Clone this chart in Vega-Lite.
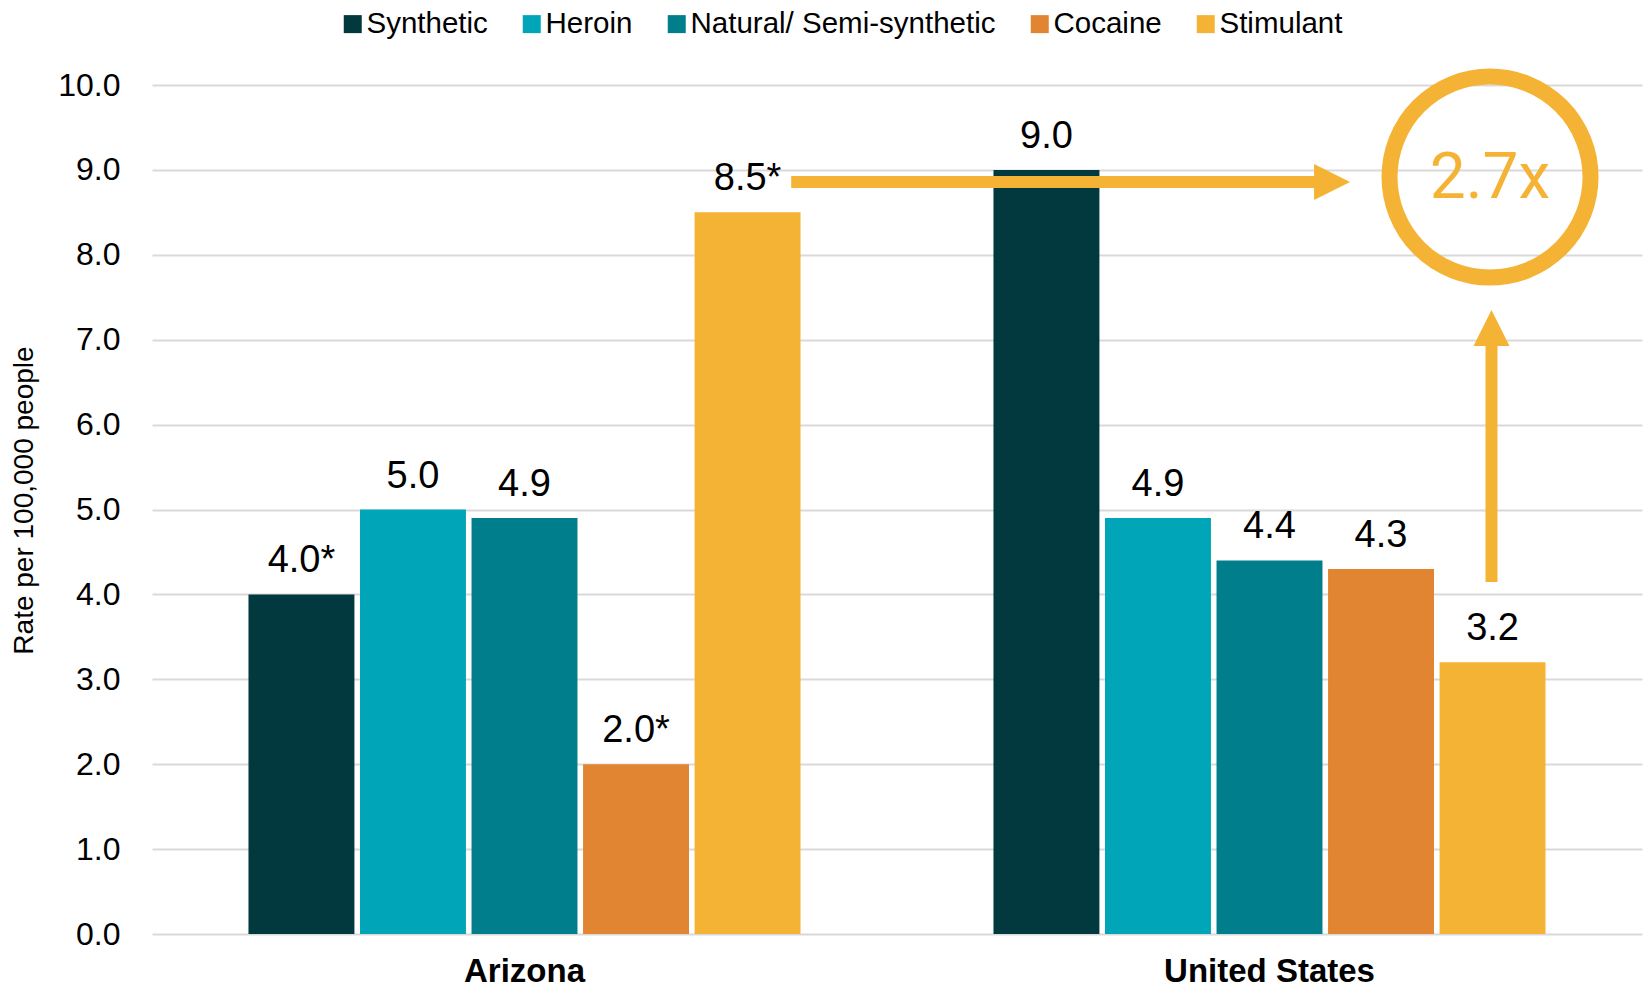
{
  "$schema": "https://vega.github.io/schema/vega-lite/v6.json",
  "width": 1490,
  "height": 849,
  "autosize": {"type": "none"},
  "padding": {"left": 152, "top": 85, "right": 3, "bottom": 56},
  "background": "white",
  "config": {"view": {"stroke": null}},
  "layer": [
    {
      "data": {"values": [
        {"location": "Arizona", "drug": "Synthetic", "value": 4.0, "label": "4.0*"},
        {"location": "Arizona", "drug": "Heroin", "value": 5.0, "label": "5.0"},
        {"location": "Arizona", "drug": "Natural/ Semi-synthetic", "value": 4.9, "label": "4.9"},
        {"location": "Arizona", "drug": "Cocaine", "value": 2.0, "label": "2.0*"},
        {"location": "Arizona", "drug": "Stimulant", "value": 8.5, "label": "8.5*"},
        {"location": "United States", "drug": "Synthetic", "value": 9.0, "label": "9.0"},
        {"location": "United States", "drug": "Heroin", "value": 4.9, "label": "4.9"},
        {"location": "United States", "drug": "Natural/ Semi-synthetic", "value": 4.4, "label": "4.4"},
        {"location": "United States", "drug": "Cocaine", "value": 4.3, "label": "4.3"},
        {"location": "United States", "drug": "Stimulant", "value": 3.2, "label": "3.2"}
      ]},
      "encoding": {
        "x": {"field": "location", "type": "nominal", "sort": ["Arizona", "United States"],
          "scale": {"paddingInner": 0, "paddingOuter": 0},
          "axis": {"title": null, "labelFont": "Liberation Sans", "labelFontWeight": "bold", "labelFontSize": 33, "labelColor": "#000000", "labelPadding": 21, "labelLimit": 0, "domain": false, "ticks": false, "labelAngle": 0}},
        "xOffset": {"field": "drug", "type": "nominal",
          "sort": ["Synthetic", "Heroin", "Natural/ Semi-synthetic", "Cocaine", "Stimulant"],
          "scale": {"paddingInner": 0.05, "paddingOuter": 0.865}},
        "y": {"field": "value", "type": "quantitative",
          "scale": {"domain": [0, 10], "nice": false},
          "axis": {"title": "Rate per 100,000 people", "values": [0, 1, 2, 3, 4, 5, 6, 7, 8, 9, 10], "format": ".1f",
            "grid": true, "gridColor": "#d9d9d9", "gridWidth": 2, "domain": false, "ticks": false,
            "labelFont": "Liberation Sans", "labelFontSize": 32, "labelColor": "#000000", "labelPadding": 32,
            "titleFont": "Liberation Sans", "titleFontSize": 28, "titleFontWeight": "normal", "titleColor": "#000000", "titleX": -114, "titleY": 415}}
      },
      "layer": [
        {
          "mark": {"type": "bar"},
          "encoding": {
            "color": {"field": "drug", "type": "nominal",
              "scale": {"domain": ["Synthetic", "Heroin", "Natural/ Semi-synthetic", "Cocaine", "Stimulant"],
                "range": ["#02393e", "#00a6b8", "#017e8b", "#e28532", "#f5b335"]},
              "legend": {"orient": "none", "legendX": 186, "legendY": -76, "direction": "horizontal", "title": null,
                "symbolType": "square", "symbolSize": 324, "symbolStrokeWidth": 0, "symbolOpacity": 1,
                "labelFont": "Liberation Sans", "labelFontSize": 29.5, "labelColor": "#000000", "labelOffset": -1,
                "columnPadding": 29, "padding": 0, "labelLimit": 500}}
          }
        },
        {
          "mark": {"type": "text", "baseline": "alphabetic", "align": "center", "dy": -22, "font": "Liberation Sans", "fontSize": 38, "color": "#000000"},
          "encoding": {"text": {"field": "label"}}
        }
      ]
    },
    {
      "layer": [
        {
          "data": {"values": [
            {"x": 0.858, "x2": 1.575, "y": 8.857, "y2": 8.857},
            {"x": 1.798, "x2": 1.798, "y": 4.146, "y2": 6.95}
          ]},
          "mark": {"type": "rule", "color": "#f5b335", "strokeWidth": 12, "strokeCap": "butt"},
          "encoding": {
            "x": {"field": "x", "type": "quantitative", "scale": {"domain": [0, 2], "nice": false, "zero": false}, "axis": null},
            "x2": {"field": "x2"},
            "y": {"field": "y", "type": "quantitative", "scale": {"domain": [0, 10], "nice": false},
              "axis": {"title": "Rate per 100,000 people", "values": [0, 1, 2, 3, 4, 5, 6, 7, 8, 9, 10], "format": ".1f",
                "grid": true, "gridColor": "#d9d9d9", "gridWidth": 2, "domain": false, "ticks": false,
                "labelFont": "Liberation Sans", "labelFontSize": 32, "labelColor": "#000000", "labelPadding": 32,
                "titleFont": "Liberation Sans", "titleFontSize": 28, "titleFontWeight": "normal", "titleColor": "#000000", "titleX": -114, "titleY": 415}},
            "y2": {"field": "y2"}
          }
        },
        {
          "data": {"values": [
            {"x": 1.584, "y": 8.857, "dir": "right"},
            {"x": 1.798, "y": 7.138, "dir": "up"}
          ]},
          "mark": {"type": "point", "filled": true, "color": "#f5b335", "opacity": 1, "size": 1296},
          "encoding": {
            "x": {"field": "x", "type": "quantitative", "scale": {"domain": [0, 2], "nice": false, "zero": false}, "axis": null},
            "y": {"field": "y", "type": "quantitative", "scale": {"domain": [0, 10], "nice": false},
              "axis": {"title": "Rate per 100,000 people", "values": [0, 1, 2, 3, 4, 5, 6, 7, 8, 9, 10], "format": ".1f",
                "grid": true, "gridColor": "#d9d9d9", "gridWidth": 2, "domain": false, "ticks": false,
                "labelFont": "Liberation Sans", "labelFontSize": 32, "labelColor": "#000000", "labelPadding": 32,
                "titleFont": "Liberation Sans", "titleFontSize": 28, "titleFontWeight": "normal", "titleColor": "#000000", "titleX": -114, "titleY": 415}},
            "shape": {"field": "dir", "type": "nominal",
              "scale": {"domain": ["right", "up"], "range": ["M-1,-1L1,0L-1,1Z", "M-1,1L0,-1L1,1Z"]}, "legend": null}
          }
        },
        {
          "data": {"values": [{"x": 1.796, "y": 8.916, "label": "2.7x"}]},
          "encoding": {
            "x": {"field": "x", "type": "quantitative", "scale": {"domain": [0, 2], "nice": false, "zero": false}, "axis": null},
            "y": {"field": "y", "type": "quantitative", "scale": {"domain": [0, 10], "nice": false},
              "axis": {"title": "Rate per 100,000 people", "values": [0, 1, 2, 3, 4, 5, 6, 7, 8, 9, 10], "format": ".1f",
                "grid": true, "gridColor": "#d9d9d9", "gridWidth": 2, "domain": false, "ticks": false,
                "labelFont": "Liberation Sans", "labelFontSize": 32, "labelColor": "#000000", "labelPadding": 32,
                "titleFont": "Liberation Sans", "titleFontSize": 28, "titleFontWeight": "normal", "titleColor": "#000000", "titleX": -114, "titleY": 415}}
          },
          "layer": [
            {
              "mark": {"type": "point", "shape": "circle", "filled": false, "color": "#f5b335", "opacity": 1, "strokeWidth": 16, "size": 40401}
            },
            {
              "mark": {"type": "text", "baseline": "middle", "align": "center", "font": "Roboto", "fontWeight": 400, "fontSize": 64, "color": "#f5b335", "dy": 2},
              "encoding": {"text": {"field": "label"}}
            }
          ]
        }
      ]
    }
  ],
  "resolve": {"scale": {"x": "independent"}}
}
